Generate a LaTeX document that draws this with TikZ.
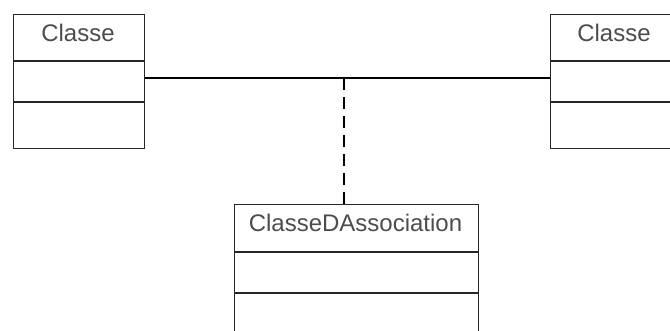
\documentclass[tikz,border=0pt]{standalone}
\usepackage{fontspec}
\setmainfont{Liberation Sans}
\begin{document}
\begin{tikzpicture}[x=1pt,y=-1pt,
  box/.style={draw=black!85,line width=1.2pt,rectangle,inner sep=0pt,anchor=north west},
  lbl/.style={text=black!70,font=\fontsize{24}{24}\selectfont,inner sep=0pt},
  divider/.style={draw=black!85,line width=1.2pt},
  assoc/.style={draw=black,line width=2pt},
  dashlink/.style={draw=black,line width=2.4pt,dash pattern=on 12pt off 7pt}]
\useasboundingbox (0,0) rectangle (670,331);
\clip (0,0) rectangle (670,331);
% left class
\node[box,minimum width=131pt,minimum height=134pt] (l) at (13,14) {};
\node[lbl] (lt) at (78,33) {Classe};
\draw[divider] (13,61) -- (144,61);
\draw[divider] (13,102) -- (144,102);
% right class
\node[box,minimum width=131pt,minimum height=134pt] (r) at (550,14) {};
\node[lbl] (rt) at (614,33) {Classe};
\draw[divider] (550,61) -- (681,61);
\draw[divider] (550,102) -- (681,102);
% association class
\node[box,minimum width=244pt,minimum height=150pt] (a) at (234,204) {};
\node[lbl] (at) at (355.5,223) {ClasseDAssociation};
\draw[divider] (234,252) -- (478,252);
\draw[divider] (234,293) -- (478,293);
% connectors
\coordinate (mid) at (344,78);
\draw[assoc] (l.east |- mid) -- (r.west |- mid);
\draw[dashlink] (mid) -- (mid |- a.north);
\end{tikzpicture}
\end{document}
